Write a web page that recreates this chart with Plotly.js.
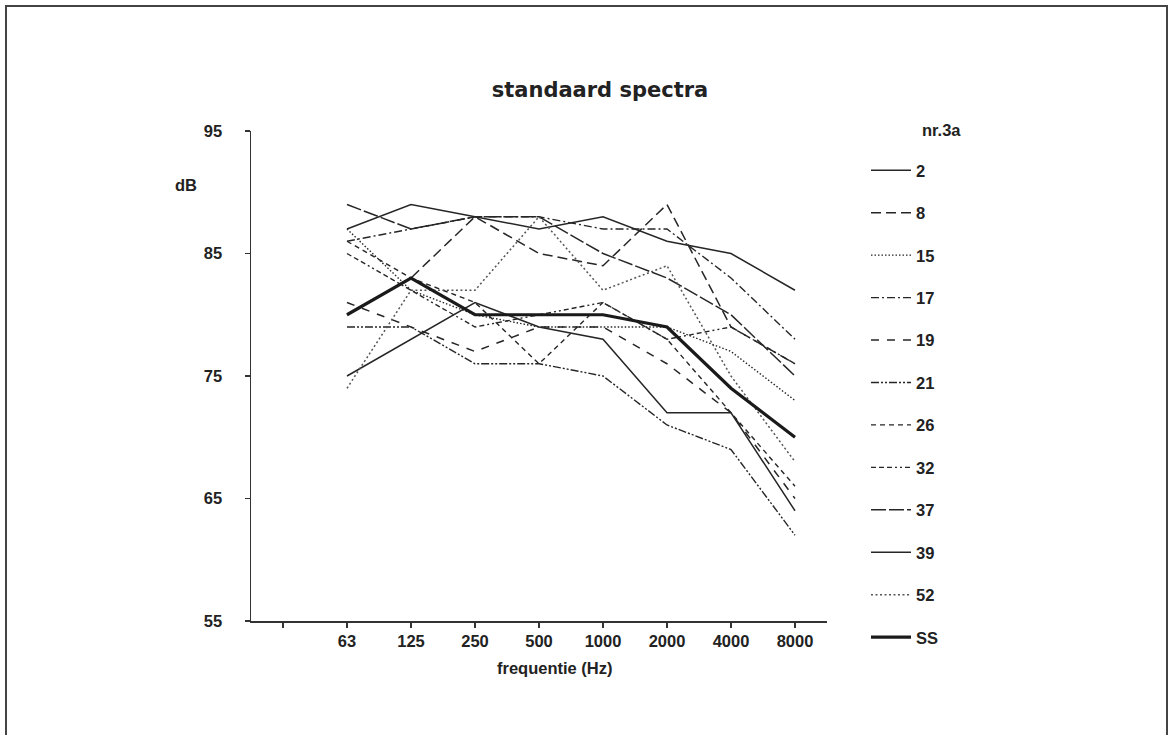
<!DOCTYPE html>
<html>
<head>
<meta charset="utf-8">
<script src="https://cdn.plot.ly/plotly-3.0.1.min.js"></script>
<style>
  html, body { margin: 0; padding: 0; background: #fff; }
  #chart { width: 1173px; height: 735px; }
</style>
</head>
<body>
<div id="chart"></div>
<script>
// Octave-band centre frequencies (Hz)
const frequencies = ['63', '125', '250', '500', '1000', '2000', '4000', '8000'];

// Spectrum levels in dB per measurement number
const seriesNames = ['2', '8', '15', '17', '19', '21', '26', '32', '37', '39', '52', 'SS'];
const s2  = [87, 89, 88, 87, 88, 86, 85, 82];
const s8  = [80, 83, 88, 85, 84, 89, 79, 76];
const s15 = [87, 82, 80, 79, 79, 79, 77, 73];
const s17 = [86, 87, 88, 88, 87, 87, 83, 78];
const s19 = [81, 79, 77, 79, 79, 76, 72, 65];
const s21 = [79, 79, 76, 76, 75, 71, 69, 62];
const s26 = [86, 83, 81, 76, 81, 78, 72, 66];
const s32 = [85, 82, 79, 80, 81, 78, 79, 76];
const s37 = [89, 87, 88, 88, 85, 83, 80, 75];
const s39 = [75, 78, 81, 79, 78, 72, 72, 64];
const s52 = [74, 82, 82, 88, 82, 84, 75, 68];
const sSS = [80, 83, 80, 80, 80, 79, 74, 70];

const seriesValues = [s2, s8, s15, s17, s19, s21, s26, s32, s37, s39, s52, sSS];

// Line style per series
const ink = '#262626';
const styles = [
  { dash: 'solid', width: 1.5, color: ink },
  { dash: '10px,5px', width: 1.5, color: ink },
  { dash: '1.5px,2px', width: 1.4, color: ink },
  { dash: '8px,3px,2px,3px', width: 1.4, color: ink },
  { dash: '8px,8px', width: 1.5, color: ink },
  { dash: '8px,2px,2px,2px,2px,2px', width: 1.4, color: ink },
  { dash: '5px,4px', width: 1.4, color: ink },
  { dash: '5px,3px,5px,3px,5px,3px,2px,3px,2px,3px', width: 1.4, color: ink },
  { dash: '15px,3px', width: 1.5, color: ink },
  { dash: 'solid', width: 1.5, color: ink },
  { dash: '2px,2.5px', width: 1.5, color: '#555' },
  { dash: 'solid', width: 3.2, color: '#1a1a1a' }
];

const xIndex = frequencies.map((f, i) => i);

const traces = seriesNames.map((name, k) => ({
  type: 'scatter',
  mode: 'lines',
  name: name,
  legendgroup: 'g' + k,
  x: xIndex,
  y: seriesValues[k],
  line: { color: styles[k].color, width: styles[k].width, dash: styles[k].dash },
  hoverinfo: 'skip'
}));

// Plot area geometry in pixels
const W = 1173, H = 735;
const L = 251, R = 827, T = 131, B = 621;
const pw = R - L, ph = B - T;
const px = x => (x - L) / pw;
const py = y => (B - y) / ph;

const sans = 'Liberation Sans, Arial, sans-serif';
const boldFont = { family: sans, size: 16.5, color: '#222', weight: 'bold' };

function label(text, x, y) {
  return { text: text, xref: 'paper', yref: 'paper', x: px(x), y: py(y),
           xanchor: 'center', yanchor: 'middle', showarrow: false, font: boldFont };
}

const layout = {
  width: W,
  height: H,
  margin: { l: L, r: W - R, t: T, b: H - B, pad: 0 },
  paper_bgcolor: '#fff',
  plot_bgcolor: '#fff',
  showlegend: true,
  title: {
    text: 'standaard spectra',
    font: { family: 'DejaVu Sans, sans-serif', size: 21, color: '#222', weight: 'bold' },
    xref: 'paper', x: px(600), xanchor: 'center',
    yref: 'container', y: 1 - 90 / H, yanchor: 'middle'
  },
  xaxis: {
    range: [-1.5, 7.5],
    tickmode: 'array',
    tickvals: [-1].concat(xIndex),
    ticktext: [''].concat(frequencies),
    ticks: 'outside', ticklen: 5, tickwidth: 1.3, tickcolor: '#333',
    showline: true, linecolor: '#333', linewidth: 1.5,
    showgrid: false, zeroline: false,
    tickfont: boldFont,
    fixedrange: true
  },
  yaxis: {
    range: [55, 95],
    tickmode: 'array',
    tickvals: [55, 65, 75, 85, 95],
    ticks: 'outside', ticklen: 5, tickwidth: 1.3, tickcolor: '#333',
    ticklabelstandoff: 19,
    showline: true, linecolor: '#333', linewidth: 1.5,
    showgrid: false, zeroline: false,
    tickfont: boldFont,
    fixedrange: true
  },
  legend: {
    x: px(866), xanchor: 'left',
    y: py(153), yanchor: 'top',
    font: boldFont,
    itemwidth: 40,
    tracegroupgap: 18,
    maxheight: 600,
    bgcolor: 'rgba(0,0,0,0)',
    borderwidth: 0
  },
  annotations: [
    label('dB', 186, 185),
    label('frequentie (Hz)', 555, 668),
    label('nr.3a', 941, 130)
  ],
  shapes: [
    { type: 'rect', xref: 'paper', yref: 'paper', layer: 'below',
      x0: px(6), x1: px(1167), y0: py(760), y1: py(6),
      line: { color: '#444', width: 2 }, fillcolor: 'rgba(0,0,0,0)' }
  ]
};

Plotly.newPlot('chart', traces, layout, { staticPlot: true, displayModeBar: false });
</script>
</body>
</html>
